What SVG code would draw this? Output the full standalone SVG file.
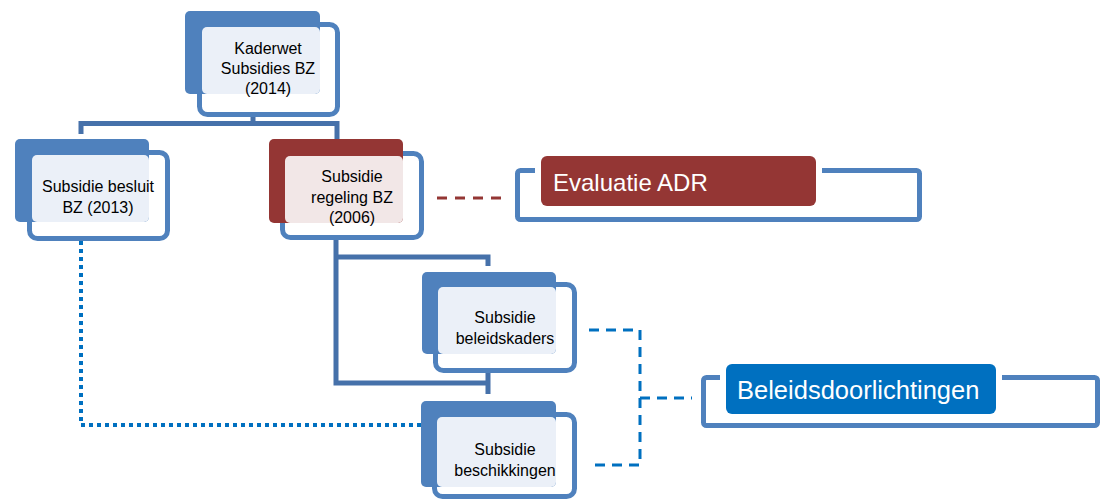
<svg xmlns="http://www.w3.org/2000/svg" width="1107" height="501" viewBox="0 0 1107 501">
<style>
.outline{fill:#ffffff;stroke:#4F81BD;stroke-width:5}
.backb{fill:#4F81BD}
.backr{fill:#943634}
.lightb{fill:#EBF0F8}
.lightr{fill:#F2E7E7}
.t{font-family:"Liberation Sans",Arial,sans-serif;font-size:16px;fill:#000;text-anchor:middle}
.big{font-family:"Liberation Sans",Arial,sans-serif;fill:#fff}
.conn{fill:none;stroke:#4671AA;stroke-width:5}
.bracket{fill:none;stroke:#4F81BD;stroke-width:5}
</style>
<rect width="1107" height="501" fill="#ffffff"/>
<g id="connectors">
<path class="conn" d="M253,117 V123.5 M81,134 V123.5 H337 V140"/>
<path class="conn" d="M336,240 V383 H488 M336,257 H488 V266 M488,373 V394"/>
<path d="M437,198 H503" fill="none" stroke="#943634" stroke-width="3" stroke-dasharray="10 8"/>
<path d="M81,241 V425 H431" fill="none" stroke="#0070C0" stroke-width="4" stroke-dasharray="4 4"/>
<path d="M589,330 H640 V465 H589 M640,398 H692" fill="none" stroke="#0070C0" stroke-width="3" stroke-dasharray="10 7"/>
</g>
<g id="node-kaderwet">
<rect class="outline" x="199.5" y="24.5" width="138" height="90" rx="8"/>
<rect class="backb" x="185" y="11" width="135" height="83" rx="5"/>
<rect class="lightb" x="202" y="27" width="118" height="67" rx="5"/>
<text class="t" x="268" y="53.5">Kaderwet</text>
<text class="t" x="268" y="73.5">Subsidies BZ</text>
<text class="t" x="268" y="93.5">(2014)</text>
</g>
<g id="node-besluit">
<rect class="outline" x="29.5" y="152.5" width="138" height="86" rx="8"/>
<rect class="backb" x="15" y="139" width="134" height="83" rx="5"/>
<rect class="lightb" x="32" y="155" width="117" height="67" rx="5"/>
<text class="t" x="98" y="191.5">Subsidie besluit</text>
<text class="t" x="98" y="212.5">BZ (2013)</text>
</g>
<g id="node-regeling">
<rect class="outline" x="282.5" y="153.5" width="139" height="84" rx="8"/>
<rect class="backr" x="269" y="139" width="134" height="84" rx="5"/>
<rect class="lightr" x="285" y="156" width="118" height="67" rx="5"/>
<text class="t" x="352" y="181.5">Subsidie</text>
<text class="t" x="352" y="202.5">regeling BZ</text>
<text class="t" x="352" y="222.5">(2006)</text>
</g>
<g id="node-beleidskaders">
<rect class="outline" x="435.5" y="284.5" width="139" height="86" rx="8"/>
<rect class="backb" x="422" y="272" width="134" height="82" rx="5"/>
<rect class="lightb" x="438" y="287" width="118" height="67" rx="5"/>
<text class="t" x="505" y="322.5">Subsidie</text>
<text class="t" x="505" y="343.5">beleidskaders</text>
</g>
<g id="node-beschikkingen">
<rect class="outline" x="434.5" y="414.5" width="140" height="82" rx="8"/>
<rect class="backb" x="421" y="401" width="135" height="86" rx="5"/>
<rect class="lightb" x="437" y="417" width="119" height="70" rx="5"/>
<text class="t" x="505" y="454.5">Subsidie</text>
<text class="t" x="505" y="475.5">beschikkingen</text>
</g>
<g id="node-evaluatie">
<rect class="bracket" x="517.5" y="170.5" width="402" height="49" rx="3"/>
<rect x="535" y="150" width="287" height="62" fill="#ffffff"/>
<rect x="541" y="156" width="275" height="50" rx="6" fill="#943634"/>
<text class="big" x="553" y="190.5" font-size="24">Evaluatie ADR</text>
</g>
<g id="node-beleidsdoorlichtingen">
<rect class="bracket" x="703.5" y="377.5" width="394" height="48" rx="3"/>
<rect x="720" y="358" width="282" height="62" fill="#ffffff"/>
<rect x="726" y="364" width="270" height="50" rx="6" fill="#0070C0"/>
<text class="big" x="737" y="399" font-size="25.5">Beleidsdoorlichtingen</text>
</g>
</svg>
